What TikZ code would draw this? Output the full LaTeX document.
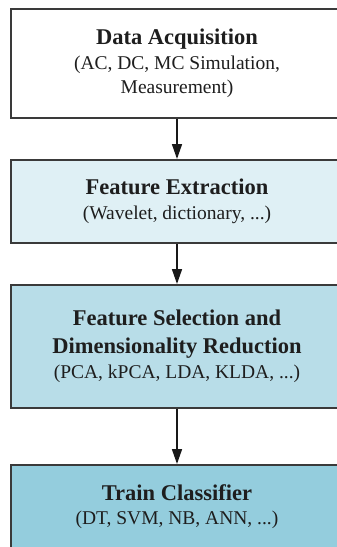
\documentclass[tikz,border=0pt]{standalone}
\usepackage{fontspec}
\setmainfont{Liberation Serif}
\usetikzlibrary{arrows.meta}
\definecolor{edgec}{HTML}{3A3A3A}
\definecolor{txtc}{HTML}{1E1E1E}
\definecolor{fillA}{HTML}{FFFFFF}
\definecolor{fillB}{HTML}{DFF0F5}
\definecolor{fillC}{HTML}{B8DDE8}
\definecolor{fillD}{HTML}{94CDDD}
\newcommand{\ttl}{\fontsize{22.5}{24.5}\selectfont\bfseries}
\newcommand{\sbt}{\fontsize{19.5}{24.5}\selectfont\mdseries}
\tikzset{
  stagebox/.style={draw=edgec, line width=2pt, minimum width=332pt, align=center,
    text=txtc, inner sep=0pt, font=\sbt},
  flowarrow/.style={draw=black!90, line width=1.6pt, -{Triangle[length=15pt,width=10pt]}}
}
\begin{document}
\begin{tikzpicture}[x=1pt,y=-1pt]
\useasboundingbox (0,0) rectangle (337,547);
\clip (0,0) rectangle (337,547);
\fill[white] (0,0) rectangle (337,547);
\node[stagebox, fill=fillA, minimum height=109pt] (acq) at (177,63.5)
  {{\ttl Data Acquisition}\\ (AC, DC, MC Simulation,\\ Measurement)};
\node[stagebox, fill=fillB, minimum height=83pt] (ext) at (177,201.5)
  {{\ttl Feature Extraction}\\ (Wavelet, dictionary, ...)};
\node[stagebox, fill=fillC, minimum height=123pt] (sel) at (177,346.5)
  {{\ttl Feature Selection and}\\[3.5pt] {\ttl Dimensionality Reduction}\\ (PCA, kPCA, LDA, KLDA, ...)};
\node[stagebox, fill=fillD, minimum height=83pt] (cls) at (177,506.5)
  {{\ttl Train Classifier}\\ (DT, SVM, NB, ANN, ...)};
\draw[flowarrow] (acq.south) -- (ext.north);
\draw[flowarrow] (ext.south) -- (sel.north);
\draw[flowarrow] (sel.south) -- (cls.north);
\end{tikzpicture}
\end{document}
